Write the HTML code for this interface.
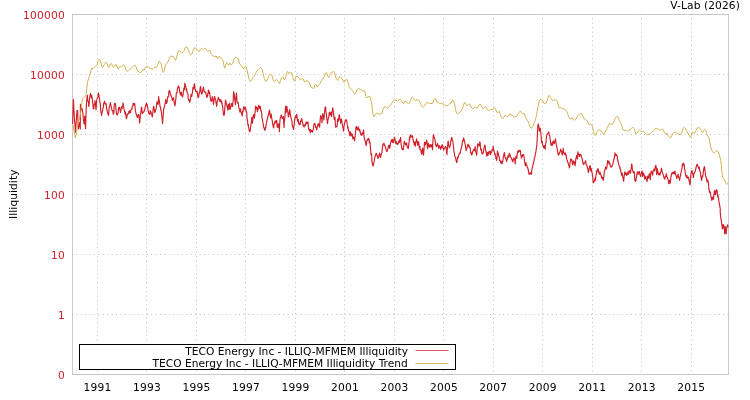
<!DOCTYPE html>
<html><head><meta charset="utf-8"><title>V-Lab Illiquidity</title>
<style>
html,body{margin:0;padding:0;background:#fff;}
body{width:750px;height:400px;overflow:hidden;}
svg{display:block;}
text{font-family:"DejaVu Sans","Liberation Sans",sans-serif;font-size:10.67px;}
.yl{fill:#d0202a;text-anchor:end;letter-spacing:0.21px;}
.xl{fill:#000;text-anchor:middle;letter-spacing:0.21px;}
.grid{stroke:#bcbcbc;stroke-width:1;stroke-dasharray:1 3.4;fill:none;}
</style></head><body>
<svg width="750" height="400" viewBox="0 0 750 400">
<rect x="0" y="0" width="750" height="400" fill="#fff"/>
<rect x="72.5" y="14.5" width="656.0" height="360.0" fill="none" stroke="#cacaca" stroke-width="1" shape-rendering="crispEdges"/>
<g><line class="grid" x1="72.0" y1="14.5" x2="729.0" y2="14.5"/><line class="grid" x1="72.0" y1="74.5" x2="729.0" y2="74.5"/><line class="grid" x1="72.0" y1="134.5" x2="729.0" y2="134.5"/><line class="grid" x1="72.0" y1="194.5" x2="729.0" y2="194.5"/><line class="grid" x1="72.0" y1="254.5" x2="729.0" y2="254.5"/><line class="grid" x1="72.0" y1="314.5" x2="729.0" y2="314.5"/><line class="grid" x1="72.0" y1="374.5" x2="729.0" y2="374.5"/><line class="grid" x1="97.50" y1="14.0" x2="97.50" y2="375.0"/><line class="grid" x1="146.50" y1="14.0" x2="146.50" y2="375.0"/><line class="grid" x1="196.50" y1="14.0" x2="196.50" y2="375.0"/><line class="grid" x1="245.50" y1="14.0" x2="245.50" y2="375.0"/><line class="grid" x1="295.50" y1="14.0" x2="295.50" y2="375.0"/><line class="grid" x1="344.50" y1="14.0" x2="344.50" y2="375.0"/><line class="grid" x1="394.50" y1="14.0" x2="394.50" y2="375.0"/><line class="grid" x1="443.50" y1="14.0" x2="443.50" y2="375.0"/><line class="grid" x1="493.50" y1="14.0" x2="493.50" y2="375.0"/><line class="grid" x1="542.50" y1="14.0" x2="542.50" y2="375.0"/><line class="grid" x1="592.50" y1="14.0" x2="592.50" y2="375.0"/><line class="grid" x1="641.50" y1="14.0" x2="641.50" y2="375.0"/><line class="grid" x1="691.50" y1="14.0" x2="691.50" y2="375.0"/></g>
<text class="yl" x="64.9" y="18.5">100000</text><text class="yl" x="64.9" y="78.5">10000</text><text class="yl" x="64.9" y="138.5">1000</text><text class="yl" x="64.9" y="198.5">100</text><text class="yl" x="64.9" y="258.5">10</text><text class="yl" x="64.9" y="318.5">1</text><text class="yl" x="64.9" y="378.5">0</text>
<text class="xl" x="97.5" y="391">1991</text><text class="xl" x="147.0" y="391">1993</text><text class="xl" x="196.5" y="391">1995</text><text class="xl" x="245.9" y="391">1997</text><text class="xl" x="295.4" y="391">1999</text><text class="xl" x="344.9" y="391">2001</text><text class="xl" x="394.4" y="391">2003</text><text class="xl" x="443.9" y="391">2005</text><text class="xl" x="493.3" y="391">2007</text><text class="xl" x="542.8" y="391">2009</text><text class="xl" x="592.3" y="391">2011</text><text class="xl" x="641.8" y="391">2013</text><text class="xl" x="691.3" y="391">2015</text>
<text x="12.6" y="194.2" transform="rotate(-90 12.6 194.2)" text-anchor="middle" dy="4" letter-spacing="0.06">Illiquidity</text>
<text x="739.9" y="9" text-anchor="end" letter-spacing="0.08">V-Lab (2026)</text>
<polyline points="72.6,124.0 73.0,110.5 73.4,99.3 73.7,105.5 74.0,111.7 74.3,116.0 74.6,122.0 74.9,124.4 75.1,127.4 75.4,132.1 75.7,128.8 75.9,125.8 76.2,121.7 76.5,118.3 76.7,114.6 77.0,110.5 77.3,111.2 77.6,110.6 78.0,120.9 78.4,128.9 78.7,126.5 78.9,125.6 79.2,122.5 79.5,124.5 79.8,124.9 80.0,127.1 80.3,129.2 80.4,104.3 80.8,110.4 81.1,108.8 81.4,109.6 81.7,108.7 82.0,108.3 82.3,109.5 82.5,111.6 82.8,112.0 83.1,116.2 83.4,120.2 83.7,121.0 84.0,123.9 84.3,120.9 84.5,120.4 84.8,116.0 85.1,120.9 85.3,125.1 85.6,128.7 86.0,114.4 86.4,104.3 86.7,100.8 86.9,99.0 87.2,95.1 87.5,96.9 87.7,100.2 88.0,101.3 88.3,101.5 88.5,103.3 88.8,106.4 89.1,104.4 89.3,101.2 89.6,98.5 89.9,95.8 90.1,95.5 90.4,93.6 90.7,94.3 90.9,94.8 91.2,97.3 91.5,98.0 91.7,95.5 92.0,96.8 92.3,98.3 92.5,101.5 92.8,103.9 93.1,105.6 93.3,108.6 93.6,109.0 93.9,108.4 94.1,105.5 94.4,103.8 94.7,103.9 94.9,100.6 95.2,102.8 95.5,105.2 95.7,106.2 96.0,109.8 96.3,105.9 96.5,101.0 96.8,99.9 97.1,98.3 97.3,97.9 97.6,97.5 97.9,97.1 98.1,94.5 98.4,92.8 98.7,94.8 98.9,94.4 99.2,98.0 99.5,98.2 99.7,101.2 100.0,102.0 100.3,104.2 100.5,107.4 100.8,111.1 101.1,112.8 101.3,113.3 101.6,115.5 101.9,113.1 102.1,112.6 102.4,111.0 102.7,110.8 102.9,107.8 103.2,107.9 103.5,105.4 103.7,103.6 104.0,102.7 104.3,101.9 104.6,101.4 104.9,103.2 105.3,104.1 105.6,103.5 105.9,105.0 106.1,103.5 106.4,105.6 106.7,109.2 106.9,109.2 107.2,111.1 107.5,112.5 107.8,113.4 108.1,114.5 108.4,115.3 108.7,113.8 108.9,110.8 109.2,107.1 109.5,106.3 109.8,105.4 110.1,104.5 110.4,102.5 110.7,104.6 110.9,105.4 111.2,106.8 111.5,107.6 111.8,109.7 112.1,110.5 112.4,110.5 112.7,110.7 113.0,112.3 113.3,114.3 113.6,114.1 113.9,110.1 114.1,107.7 114.4,104.3 114.7,103.4 115.1,104.2 115.4,103.6 115.8,107.5 116.1,110.9 116.4,113.1 116.7,114.8 117.0,113.9 117.4,114.8 117.7,113.5 118.1,113.3 118.4,108.9 118.7,107.5 119.0,108.4 119.3,109.2 119.6,107.2 119.9,109.8 120.1,110.0 120.4,112.5 120.7,111.4 120.9,109.6 121.2,108.7 121.5,107.2 121.8,106.6 122.1,108.5 122.4,106.1 122.7,106.6 123.0,102.8 123.4,104.5 123.8,108.0 124.1,109.6 124.5,111.1 124.8,112.3 125.1,114.1 125.4,111.7 125.7,114.0 126.0,115.1 126.3,118.6 126.6,118.1 126.9,117.0 127.2,114.8 127.4,114.2 127.8,114.4 128.1,113.7 128.4,113.3 128.7,111.7 129.0,111.8 129.2,112.1 129.5,110.7 129.8,111.3 130.0,113.2 130.3,111.2 130.5,112.8 130.8,110.5 131.1,109.5 131.4,109.0 131.8,108.3 132.0,108.9 132.3,106.5 132.6,105.9 132.8,105.8 133.1,103.8 133.4,103.2 133.6,104.9 133.9,104.1 134.2,105.2 134.4,104.5 134.7,103.5 135.0,106.9 135.2,108.7 135.5,111.7 135.8,112.2 136.0,113.3 136.3,114.7 136.6,115.1 136.8,116.1 137.1,115.6 137.4,117.8 137.6,115.8 137.9,115.1 138.2,114.7 138.4,115.8 138.7,114.6 139.0,116.7 139.3,118.9 139.6,123.1 139.9,120.7 140.2,116.9 140.5,114.6 140.8,112.6 141.1,110.2 141.4,107.0 141.7,107.4 142.0,110.9 142.3,113.4 142.6,113.7 142.9,112.2 143.2,112.0 143.4,111.9 143.7,112.2 144.0,111.5 144.2,111.2 144.5,109.5 144.8,110.0 145.1,107.8 145.3,106.7 145.6,106.2 145.9,105.0 146.1,104.1 146.4,103.5 146.7,103.4 146.9,105.3 147.2,104.5 147.5,106.6 147.8,108.1 148.0,110.5 148.3,111.1 148.6,113.0 148.8,113.4 149.1,113.4 149.4,114.2 149.6,114.4 149.9,113.2 150.2,110.5 150.4,113.1 150.7,112.4 151.0,111.8 151.2,112.8 151.5,114.6 151.8,114.8 152.1,116.4 152.4,116.9 152.7,113.6 153.0,110.7 153.3,108.3 153.6,106.1 153.9,106.9 154.1,108.4 154.4,109.7 154.7,112.4 154.9,110.0 155.2,112.2 155.5,110.9 155.7,110.1 156.0,109.3 156.3,107.5 156.6,103.9 156.8,103.0 157.1,101.7 157.4,102.4 157.6,104.1 157.9,103.2 158.2,104.3 158.4,100.8 158.6,96.5 158.9,99.2 159.2,100.0 159.5,101.7 159.8,104.4 160.0,106.7 160.3,106.6 160.6,107.9 160.8,110.1 161.1,110.0 161.4,112.6 161.7,115.4 162.0,117.4 162.3,119.8 162.6,123.6 162.9,118.5 163.2,115.8 163.6,109.6 163.9,108.6 164.2,107.2 164.5,106.5 164.8,104.7 165.0,104.0 165.3,103.3 165.6,100.6 165.8,99.4 166.1,103.3 166.4,103.3 166.7,103.0 166.9,102.5 167.2,101.2 167.5,98.9 167.8,96.7 168.1,97.1 168.4,96.1 168.6,96.2 168.9,91.0 169.2,91.3 169.5,90.3 169.8,91.1 170.1,93.3 170.4,94.7 170.7,94.6 170.9,95.9 171.2,95.9 171.5,97.0 171.7,97.5 172.0,98.1 172.3,100.4 172.5,99.6 172.8,98.5 173.1,99.4 173.4,97.5 173.7,99.5 174.0,100.9 174.2,103.0 174.5,104.5 174.8,105.0 175.0,105.9 175.3,103.2 175.6,100.1 175.9,98.8 176.2,94.3 176.4,92.8 176.7,93.0 177.0,93.0 177.3,89.6 177.6,87.7 177.9,87.8 178.1,86.7 178.4,86.1 178.7,86.1 178.9,86.6 179.2,87.9 179.5,89.9 179.8,91.9 180.1,93.3 180.4,94.4 180.6,95.0 180.9,94.0 181.2,92.1 181.5,92.5 181.7,95.3 182.0,95.6 182.3,96.5 182.6,96.8 182.9,95.2 183.2,93.4 183.5,90.4 183.8,88.6 184.1,87.9 184.4,89.6 184.8,83.2 185.1,84.0 185.4,86.4 185.7,86.2 186.0,88.2 186.3,90.5 186.5,88.5 186.8,90.3 187.1,92.5 187.3,92.3 187.6,92.8 187.9,93.8 188.2,98.3 188.4,99.5 188.7,100.2 189.0,99.4 189.2,100.0 189.5,101.2 189.8,102.5 190.1,100.6 190.4,100.4 190.7,97.5 191.0,94.7 191.3,96.7 191.6,94.2 191.8,96.5 192.1,94.1 192.4,92.9 192.7,90.6 193.0,87.3 193.3,89.3 193.6,89.2 193.9,87.2 194.1,85.1 194.4,83.5 194.7,85.4 195.0,88.4 195.3,89.5 195.6,90.9 195.8,91.4 196.1,91.6 196.4,91.9 196.6,91.5 196.9,91.0 197.2,91.2 197.5,94.1 197.8,96.8 198.0,97.3 198.3,95.6 198.6,97.3 198.9,94.4 199.2,92.8 199.5,93.1 199.8,91.5 200.1,88.6 200.4,86.5 200.7,87.1 201.0,89.8 201.2,91.6 201.5,93.6 201.8,94.2 202.0,93.5 202.3,92.4 202.6,91.7 202.8,89.7 203.1,89.1 203.4,87.0 203.7,88.6 204.0,91.0 204.3,91.5 204.5,91.5 204.8,91.9 205.1,92.5 205.4,91.9 205.8,92.8 206.0,94.4 206.3,94.5 206.6,95.9 206.9,97.5 207.2,96.7 207.5,96.4 207.8,93.6 208.1,93.4 208.4,90.6 208.7,90.0 209.0,93.2 209.2,93.1 209.5,92.1 209.8,94.4 210.0,96.4 210.3,97.0 210.6,99.8 210.9,100.9 211.2,101.3 211.5,101.0 211.7,100.3 212.0,98.8 212.3,96.6 212.6,98.9 212.9,101.0 213.2,100.0 213.4,104.3 213.8,102.4 214.1,98.5 214.4,96.7 214.7,96.5 214.9,97.9 215.2,98.4 215.5,99.7 215.7,100.1 216.0,102.5 216.3,103.9 216.6,106.3 216.9,104.8 217.2,101.7 217.4,101.1 217.8,100.2 218.1,98.2 218.4,97.4 218.7,98.9 218.9,99.1 219.2,99.4 219.5,99.3 219.7,101.3 220.0,100.8 220.3,101.4 220.6,99.6 220.9,101.3 221.2,101.2 221.4,103.2 221.7,101.1 222.0,104.1 222.2,105.0 222.5,105.9 222.8,107.8 223.0,110.4 223.3,112.9 223.6,114.9 223.9,115.5 224.1,113.2 224.4,114.8 224.7,109.1 225.0,106.1 225.2,104.8 225.4,100.4 225.7,100.1 226.0,102.5 226.2,102.9 226.5,103.5 226.8,105.2 227.0,106.9 227.3,107.1 227.6,107.9 227.8,110.2 228.1,106.2 228.4,104.3 228.7,105.1 229.0,109.0 229.3,104.9 229.6,103.0 229.9,107.0 230.2,109.4 230.5,106.8 230.8,107.0 231.0,106.3 231.3,106.0 231.6,103.6 231.8,103.5 232.1,104.6 232.4,104.0 232.6,106.4 232.9,102.5 233.2,100.2 233.6,91.6 233.9,92.9 234.2,93.5 234.5,97.1 234.8,99.9 235.1,101.6 235.4,104.6 235.6,100.5 235.8,98.5 236.1,96.2 236.4,93.0 236.7,95.9 237.0,100.6 237.3,102.4 237.6,102.9 237.9,103.3 238.1,102.3 238.4,104.0 238.7,106.6 239.0,108.5 239.3,109.0 239.6,109.1 239.8,111.9 240.1,111.6 240.4,108.9 240.7,111.0 240.9,111.7 241.2,112.6 241.5,113.5 241.7,113.3 242.0,115.0 242.3,115.9 242.5,111.9 242.8,110.5 243.1,111.8 243.3,108.9 243.6,107.0 243.9,107.2 244.1,106.9 244.4,109.1 244.7,108.5 244.9,107.4 245.2,107.4 245.5,107.9 245.7,109.9 246.0,109.5 246.3,112.2 246.5,111.5 246.8,113.4 247.0,118.2 247.3,119.5 247.6,121.5 247.8,123.6 248.1,125.6 248.4,124.9 248.6,127.7 248.9,128.4 249.2,130.8 249.4,130.3 249.7,130.2 250.0,131.9 250.3,130.0 250.6,127.0 250.9,125.2 251.2,123.2 251.5,120.9 251.8,117.4 252.1,119.5 252.4,123.2 252.7,121.0 253.0,118.2 253.2,115.5 253.5,116.9 253.8,114.3 254.1,115.1 254.4,118.2 254.7,116.2 255.0,113.2 255.3,110.2 255.6,106.2 255.9,106.5 256.2,108.8 256.5,108.3 256.8,107.4 257.1,110.0 257.4,111.6 257.7,110.3 258.0,109.5 258.3,107.4 258.6,105.3 258.9,105.4 259.2,108.0 259.5,108.3 259.7,107.6 260.0,107.4 260.3,106.3 260.6,108.7 260.9,110.8 261.2,110.5 261.5,112.2 261.8,114.6 262.0,118.2 262.3,119.0 262.6,120.6 262.8,122.3 263.1,123.4 263.4,125.1 263.6,126.9 263.9,127.8 264.2,128.1 264.4,129.4 264.7,130.1 265.0,130.4 265.2,127.4 265.5,128.4 265.8,127.2 266.1,125.3 266.4,123.1 266.7,121.8 266.9,121.0 267.2,119.3 267.5,118.6 267.7,116.9 268.0,116.7 268.3,115.5 268.5,113.5 268.8,113.8 269.1,111.6 269.4,110.2 269.7,110.9 270.0,114.2 270.3,115.3 270.6,118.0 270.9,116.6 271.2,114.1 271.5,116.2 271.8,118.4 272.1,119.8 272.4,122.0 272.6,124.0 272.9,124.5 273.2,126.9 273.4,127.4 273.7,127.9 274.0,123.9 274.2,124.2 274.5,123.1 274.8,121.5 275.0,122.3 275.3,120.8 275.6,122.1 275.8,123.0 276.1,122.5 276.4,122.3 276.6,120.4 276.9,122.2 277.2,127.3 277.5,125.7 277.8,124.2 278.1,125.1 278.4,127.3 278.7,127.5 279.0,123.6 279.4,131.7 279.6,126.6 279.8,122.5 280.1,118.9 280.4,117.9 280.7,116.9 280.9,115.9 281.2,115.0 281.5,115.8 281.7,116.7 282.0,117.1 282.3,118.5 282.5,118.2 282.8,118.4 283.1,116.6 283.4,116.8 283.7,123.0 284.0,127.4 284.3,121.9 284.6,119.9 284.9,116.9 285.2,112.0 285.6,106.1 285.9,108.4 286.2,112.3 286.5,110.1 286.8,106.3 287.1,108.4 287.4,110.3 287.7,111.4 288.0,113.3 288.3,116.6 288.6,116.8 288.9,115.5 289.2,112.3 289.5,109.7 289.8,110.2 290.1,112.8 290.4,114.1 290.7,116.5 291.0,117.9 291.3,118.3 291.6,119.7 291.8,120.5 292.1,123.6 292.4,126.1 292.6,126.6 292.9,127.0 293.2,127.9 293.4,129.5 293.7,128.5 294.0,125.2 294.2,124.5 294.5,120.5 294.8,119.2 295.0,117.3 295.3,118.1 295.6,115.9 295.8,116.3 296.2,117.5 296.5,114.8 296.8,114.4 297.2,118.5 297.5,121.3 297.7,119.0 298.0,121.1 298.3,119.5 298.5,123.3 298.8,122.1 299.1,123.9 299.3,124.8 299.6,123.8 300.0,124.3 300.3,124.0 300.5,121.3 300.8,121.6 301.1,119.8 301.3,120.9 301.6,118.6 301.9,118.9 302.1,121.2 302.4,122.0 302.7,122.8 302.9,124.5 303.2,125.8 303.5,125.6 303.7,125.3 304.0,127.0 304.3,126.1 304.5,124.8 304.8,125.9 305.1,125.7 305.3,125.2 305.6,124.5 305.9,123.0 306.2,121.8 306.5,122.8 306.8,122.5 307.0,123.7 307.3,123.5 307.6,122.6 307.8,121.9 308.1,123.0 308.4,126.7 308.7,129.1 308.9,129.4 309.2,129.6 309.5,130.8 309.7,129.2 310.0,130.6 310.3,132.8 310.6,129.5 310.9,130.1 311.2,131.5 311.5,130.7 311.8,130.9 312.1,130.5 312.4,132.2 312.7,130.7 312.9,130.6 313.2,129.7 313.5,128.3 313.8,124.8 314.1,124.2 314.4,123.4 314.7,123.9 314.9,123.6 315.2,125.2 315.5,126.5 315.8,127.7 316.1,127.1 316.4,128.8 316.6,129.9 316.9,129.2 317.2,126.9 317.5,126.4 317.7,125.8 318.0,124.0 318.3,123.8 318.5,124.3 318.8,123.8 319.1,125.8 319.3,124.8 319.6,127.2 319.9,123.2 320.2,119.6 320.4,117.5 320.6,115.6 320.9,116.4 321.2,118.0 321.4,116.8 321.7,118.9 322.0,122.7 322.3,118.1 322.6,114.7 322.8,113.7 323.1,115.4 323.4,115.1 323.6,117.0 323.8,119.9 324.1,117.7 324.4,114.2 324.7,110.7 325.0,107.7 325.3,107.5 325.6,106.9 325.9,111.4 326.2,113.2 326.5,114.8 326.8,119.1 327.1,119.0 327.3,122.6 327.6,123.7 327.9,120.0 328.2,119.3 328.5,117.0 328.8,117.2 329.1,113.6 329.4,112.0 329.7,112.6 330.0,114.3 330.2,115.0 330.5,115.0 330.8,113.9 331.0,112.4 331.3,114.1 331.6,116.7 331.9,113.0 332.2,111.0 332.4,110.3 332.6,108.0 332.9,108.1 333.2,111.1 333.5,113.3 333.8,115.6 334.1,118.2 334.4,119.6 334.7,118.6 335.0,117.2 335.3,123.8 335.6,127.1 335.9,127.3 336.1,126.9 336.4,126.7 336.7,126.0 336.9,126.5 337.2,125.6 337.5,120.2 337.8,119.3 338.1,118.8 338.4,121.1 338.7,119.3 338.9,117.0 339.2,114.7 339.5,115.5 339.8,118.8 340.1,119.9 340.4,120.1 340.6,123.1 340.9,121.7 341.2,120.2 341.4,118.8 341.7,120.5 342.0,122.2 342.2,123.8 342.5,125.3 342.8,127.4 343.0,127.4 343.3,129.6 343.6,131.2 343.9,127.0 344.2,125.5 344.4,124.2 344.7,122.4 345.0,122.7 345.3,120.7 345.6,120.0 345.9,120.1 346.1,119.6 346.4,120.1 346.7,121.0 346.9,121.2 347.2,124.5 347.5,126.3 347.8,128.4 348.1,127.0 348.4,130.3 348.6,130.3 348.9,131.5 349.2,131.1 349.5,134.6 349.8,135.8 350.1,133.8 350.4,132.0 350.7,132.3 351.0,134.0 351.2,135.2 351.5,136.0 351.8,134.0 352.0,134.4 352.3,134.1 352.6,136.7 352.8,138.8 353.2,136.7 353.5,138.4 353.8,137.7 354.1,138.0 354.3,139.3 354.6,141.0 354.9,137.8 355.2,136.1 355.5,132.8 355.8,129.2 356.1,126.5 356.3,126.7 356.6,127.1 356.9,128.0 357.1,129.5 357.4,129.9 357.7,128.4 357.9,129.1 358.2,126.8 358.5,128.6 358.7,128.5 359.0,130.7 359.3,129.4 359.5,130.6 359.8,129.5 360.1,132.3 360.3,131.8 360.6,133.2 360.9,134.9 361.1,135.0 361.4,135.0 361.7,133.7 361.9,135.4 362.2,133.7 362.5,133.2 362.7,133.8 363.0,131.9 363.3,131.2 363.6,129.8 363.9,134.1 364.2,138.0 364.5,139.3 364.7,139.4 365.0,140.4 365.3,141.7 365.6,143.0 365.9,144.6 366.2,145.6 366.5,143.7 366.8,140.5 367.0,140.4 367.3,139.7 367.6,139.0 367.8,140.2 368.1,139.5 368.4,138.9 368.6,138.6 368.9,138.3 369.2,141.3 369.4,142.9 369.7,141.9 370.0,142.4 370.2,144.6 370.4,147.4 370.8,152.8 371.1,154.7 371.3,153.5 371.6,153.9 372.0,161.7 372.3,163.5 372.6,164.7 372.9,165.7 373.2,166.0 373.5,164.7 373.8,163.0 374.1,161.7 374.4,159.7 374.8,157.7 375.1,156.2 375.3,155.6 375.6,155.5 375.9,154.1 376.1,153.2 376.4,153.2 376.7,155.0 377.0,155.1 377.3,156.2 377.6,155.9 377.9,158.1 378.2,158.0 378.5,158.1 378.8,155.9 379.0,155.4 379.3,153.5 379.6,153.1 379.9,154.6 380.1,155.1 380.4,157.1 380.7,157.4 380.9,154.8 381.2,154.7 381.5,154.0 381.7,152.9 382.0,152.8 382.4,146.5 382.7,146.5 383.0,144.1 383.2,143.9 383.5,143.7 383.8,144.8 384.0,143.2 384.3,144.4 384.6,145.6 384.8,145.8 385.1,146.0 385.4,146.8 385.6,148.1 385.9,149.0 386.2,149.9 386.4,150.3 386.7,151.7 387.0,151.2 387.2,151.1 387.5,149.7 387.8,149.5 388.0,147.9 388.3,147.3 388.6,145.4 388.9,147.1 389.1,145.2 389.4,146.8 389.7,148.3 389.9,147.1 390.2,146.2 390.5,142.9 390.8,141.9 391.1,141.5 391.4,139.9 391.7,139.8 391.9,141.7 392.2,140.9 392.5,139.4 392.7,142.5 393.0,140.0 393.3,142.5 393.6,142.6 393.9,140.0 394.2,139.6 394.4,137.1 394.7,137.5 395.0,139.7 395.2,140.3 395.5,140.1 395.8,143.6 396.1,141.6 396.3,142.8 396.6,142.0 396.9,142.7 397.1,144.6 397.4,144.1 397.7,144.1 397.9,143.7 398.2,143.8 398.5,143.1 398.7,141.2 399.0,141.2 399.3,140.2 399.5,142.4 399.8,139.6 400.0,140.9 400.3,140.1 400.6,137.4 400.9,141.2 401.2,145.1 401.5,145.8 401.7,148.2 402.0,148.3 402.3,149.3 402.5,149.8 402.8,149.2 403.1,148.2 403.3,149.6 403.6,146.5 403.9,144.9 404.2,141.4 404.4,141.6 404.7,143.3 405.0,143.3 405.2,143.2 405.5,144.8 405.8,145.0 406.1,143.1 406.4,143.0 406.7,143.2 406.9,145.3 407.2,146.8 407.5,146.9 407.8,148.1 408.1,148.5 408.4,148.1 408.6,145.7 408.9,143.7 409.2,141.0 409.5,137.2 409.7,139.9 410.0,136.5 410.3,134.9 410.5,137.0 410.8,135.9 411.1,137.0 411.3,136.5 411.6,136.2 411.9,137.2 412.1,135.5 412.4,135.7 412.7,136.6 413.0,139.2 413.3,141.0 413.6,142.1 413.9,142.0 414.2,144.9 414.5,144.5 414.8,141.9 415.1,143.7 415.4,146.2 415.7,142.8 416.0,141.8 416.3,140.9 416.6,138.9 416.9,140.5 417.2,142.2 417.5,143.9 417.8,145.3 418.1,142.1 418.4,141.7 418.7,142.3 419.0,144.9 419.3,148.0 419.6,148.0 419.9,146.3 420.1,149.8 420.4,149.6 420.7,149.6 420.9,150.4 421.2,152.8 421.5,152.8 421.8,154.4 422.1,151.7 422.4,149.1 422.7,148.2 423.0,152.8 423.3,153.1 423.5,155.1 423.8,151.6 424.2,146.9 424.5,142.3 424.8,142.2 425.1,143.5 425.4,144.8 425.7,143.6 426.0,142.6 426.3,142.1 426.6,140.1 426.9,141.8 427.2,145.0 427.6,148.7 427.9,145.8 428.2,143.2 428.5,144.0 428.8,145.0 429.1,146.3 429.3,147.1 429.6,146.9 429.9,147.2 430.1,145.0 430.4,144.5 430.7,145.9 430.9,145.5 431.2,146.9 431.5,145.6 431.7,144.7 432.0,144.7 432.2,146.0 432.5,149.8 432.7,146.4 433.0,140.4 433.2,136.9 433.4,134.8 433.7,134.8 434.0,137.3 434.3,137.3 434.5,138.5 434.8,138.5 435.1,140.9 435.4,142.2 435.7,145.2 436.0,145.1 436.3,146.6 436.6,146.6 437.0,144.9 437.3,144.1 437.6,143.6 438.0,145.6 438.3,145.6 438.5,147.6 438.8,148.2 439.1,146.4 439.4,145.8 439.7,145.7 440.0,146.8 440.3,148.5 440.6,149.4 441.0,148.1 441.3,146.6 441.6,146.2 441.9,147.5 442.2,144.6 442.4,145.1 442.7,145.6 443.0,148.2 443.4,148.7 443.7,150.1 444.0,148.9 444.4,148.3 444.7,148.1 444.9,147.3 445.2,147.2 445.5,146.5 445.8,147.4 446.1,147.5 446.4,149.9 446.6,152.8 446.9,154.6 447.1,151.7 447.4,148.2 447.6,146.7 447.8,143.4 448.1,141.1 448.4,142.4 448.7,145.7 449.0,146.1 449.3,147.8 449.6,146.5 449.9,146.7 450.2,145.4 450.5,143.9 450.8,141.3 451.1,140.8 451.3,138.1 451.6,137.8 451.9,137.6 452.2,139.7 452.5,140.8 452.8,140.9 453.0,143.0 453.3,145.4 453.6,146.9 453.9,150.6 454.1,152.2 454.4,152.7 454.7,156.2 455.0,157.2 455.2,157.1 455.5,157.9 455.8,159.3 456.1,160.8 456.4,161.0 456.7,162.6 457.0,161.8 457.3,158.2 457.6,157.0 457.9,158.4 458.1,157.5 458.4,156.4 458.7,155.2 459.0,154.4 459.3,154.0 459.6,153.0 459.9,153.3 460.2,153.3 460.5,150.8 460.8,150.5 461.1,148.9 461.4,148.1 461.7,146.0 462.0,145.7 462.3,141.8 462.6,140.8 462.9,141.5 463.2,139.1 463.5,138.0 463.8,138.1 464.1,140.4 464.4,140.4 464.7,142.4 465.0,143.5 465.3,144.9 465.6,147.2 465.9,148.5 466.1,150.7 466.4,149.2 466.7,148.5 467.0,148.1 467.3,146.4 467.6,145.2 467.9,144.8 468.1,144.1 468.4,145.0 468.7,146.4 468.9,145.3 469.2,146.2 469.5,147.7 469.7,146.7 470.0,148.0 470.3,148.4 470.6,151.8 470.9,153.5 471.2,152.6 471.4,154.3 471.8,155.0 472.1,154.1 472.4,153.4 472.7,151.3 473.0,151.3 473.4,150.6 473.7,149.4 474.0,149.6 474.3,149.2 474.5,150.4 474.8,148.4 475.1,146.5 475.4,149.9 475.7,151.5 476.0,152.1 476.3,153.7 476.6,155.3 476.9,153.0 477.2,148.6 477.4,147.4 477.7,143.8 478.0,145.1 478.4,144.2 478.7,144.1 479.0,146.2 479.3,144.8 479.6,144.2 479.8,141.9 480.1,142.4 480.3,145.1 480.6,148.7 480.9,150.0 481.2,150.6 481.5,149.2 481.8,153.5 482.2,153.7 482.5,153.5 482.8,153.9 483.1,152.3 483.4,152.5 483.8,149.3 484.1,147.4 484.4,146.7 484.7,145.0 485.0,145.8 485.3,147.3 485.6,150.2 485.9,150.6 486.2,152.7 486.5,153.6 486.8,156.1 487.1,154.2 487.4,152.4 487.7,154.2 488.0,155.5 488.3,154.0 488.6,152.7 488.9,151.9 489.2,151.3 489.5,151.4 489.8,152.8 490.1,154.4 490.4,151.1 490.6,154.7 491.0,152.4 491.3,152.5 491.6,152.3 491.9,151.5 492.2,149.4 492.6,149.1 492.9,150.2 493.2,146.0 493.4,147.8 493.7,149.9 494.0,150.6 494.3,152.0 494.6,154.5 495.0,153.6 495.3,155.0 495.6,155.5 495.9,158.4 496.2,158.4 496.5,160.0 496.8,160.3 497.1,156.8 497.4,151.2 497.7,151.6 498.0,154.3 498.3,153.0 498.6,156.1 499.0,156.5 499.3,157.3 499.6,160.7 500.0,160.1 500.3,160.8 500.6,162.1 500.9,163.1 501.2,163.2 501.5,162.2 501.8,161.4 502.2,163.6 502.5,162.9 502.8,160.8 503.1,158.7 503.4,156.5 503.8,155.5 504.1,153.1 504.4,152.6 504.7,154.7 505.0,157.3 505.3,158.0 505.5,157.9 505.8,158.7 506.1,159.3 506.4,160.2 506.7,161.5 507.0,159.5 507.2,157.5 507.5,159.3 507.8,156.6 508.0,155.7 508.3,156.7 508.6,157.2 508.9,156.1 509.1,154.5 509.4,153.2 509.7,154.9 509.9,155.8 510.2,154.8 510.5,157.0 510.7,157.2 511.0,157.6 511.3,158.1 511.5,158.7 511.8,159.5 512.1,159.1 512.3,160.9 512.6,161.2 512.9,161.8 513.1,160.5 513.4,159.8 513.7,158.8 513.9,157.8 514.2,158.3 514.5,158.6 514.8,159.9 515.2,164.0 515.6,158.2 515.9,157.3 516.2,156.0 516.5,156.3 516.8,158.4 517.1,155.3 517.4,153.1 517.7,151.2 518.0,151.1 518.3,152.0 518.6,152.2 518.9,150.0 519.2,151.4 519.6,150.9 519.9,151.6 520.1,151.0 520.4,150.4 520.6,153.2 520.8,155.4 521.1,155.7 521.4,158.2 521.7,156.8 521.9,155.5 522.2,156.9 522.5,155.8 522.7,154.8 523.0,154.6 523.3,154.4 523.6,154.6 523.9,156.0 524.2,157.8 524.5,161.1 524.8,162.4 525.1,164.1 525.4,165.8 525.7,164.0 526.0,162.7 526.3,164.3 526.6,164.9 526.9,165.4 527.2,167.4 527.5,167.6 527.8,167.7 528.0,169.8 528.4,169.6 528.7,172.1 529.0,174.3 529.4,174.0 529.7,173.6 530.0,172.9 530.3,173.8 530.6,172.8 530.9,172.5 531.2,174.5 531.5,173.2 531.7,170.6 532.0,169.2 532.4,166.9 532.7,166.9 533.0,164.4 533.3,164.2 533.6,162.4 534.0,161.2 534.3,157.9 534.6,157.5 534.9,157.3 535.2,154.6 535.6,153.0 535.9,151.7 536.2,149.6 536.5,147.2 536.8,145.8 537.2,138.7 537.4,134.4 537.8,125.6 538.1,124.8 538.4,124.1 538.7,125.5 539.0,127.9 539.3,131.2 539.6,130.4 539.9,128.8 540.2,128.2 540.5,129.9 540.8,132.2 541.1,136.0 541.4,139.4 541.7,142.6 542.0,142.0 542.3,141.4 542.6,145.0 542.9,145.2 543.2,145.9 543.6,148.0 543.9,148.0 544.2,146.8 544.5,145.7 544.8,148.2 545.2,149.1 545.4,145.8 545.6,144.2 546.0,142.7 546.3,138.5 546.6,136.4 546.9,134.5 547.2,134.0 547.6,133.9 547.9,133.3 548.2,133.2 548.5,133.1 548.8,131.7 549.1,134.0 549.4,135.6 549.7,135.3 550.0,138.3 550.3,140.4 550.6,142.6 550.9,144.5 551.2,145.5 551.6,144.9 551.9,143.0 552.2,143.8 552.6,145.3 552.9,141.6 553.2,141.2 553.5,141.6 553.8,142.5 554.1,143.4 554.4,143.7 554.7,141.7 555.0,140.8 555.4,138.8 555.6,140.3 555.9,142.1 556.2,144.2 556.5,145.2 556.8,147.0 557.2,148.7 557.6,150.9 557.9,152.8 558.2,154.8 558.5,155.2 558.8,154.6 559.1,153.7 559.3,152.9 559.6,153.5 559.9,151.9 560.2,151.5 560.6,149.0 560.9,150.3 561.2,151.2 561.5,151.0 561.8,152.8 562.1,154.3 562.4,154.9 562.7,152.4 563.0,150.6 563.2,148.2 563.4,150.0 563.7,152.6 564.0,152.9 564.3,153.8 564.6,154.3 564.9,154.6 565.2,152.9 565.5,153.7 565.8,155.3 566.2,155.1 566.5,157.8 566.8,159.2 567.1,160.0 567.4,160.6 567.8,162.6 568.1,162.5 568.4,164.1 568.7,165.5 569.0,165.6 569.3,167.7 569.5,168.0 569.8,165.8 570.0,163.2 570.3,161.8 570.6,159.0 571.0,159.8 571.3,159.2 571.6,159.3 571.9,161.1 572.2,162.2 572.6,164.9 572.9,163.6 573.2,160.8 573.5,163.1 573.8,162.6 574.2,161.6 574.5,163.9 574.8,164.3 575.1,165.8 575.4,163.7 575.6,161.1 575.9,158.3 576.2,157.9 576.6,155.6 576.9,156.0 577.1,156.7 577.4,158.9 577.6,155.8 577.8,151.7 578.1,153.4 578.4,153.8 578.7,154.3 579.0,155.0 579.3,156.4 579.6,156.4 579.9,154.0 580.2,154.2 580.6,155.2 580.9,154.7 581.2,155.5 581.5,157.2 581.8,158.2 582.2,158.4 582.5,161.3 582.8,161.9 583.1,163.8 583.4,162.7 583.7,164.7 583.9,164.1 584.2,163.0 584.6,163.0 585.0,162.1 585.3,161.5 585.6,160.7 585.9,162.4 586.2,164.2 586.4,165.0 586.7,164.9 587.0,166.0 587.2,166.7 587.6,168.6 587.9,168.7 588.2,172.0 588.5,172.3 588.8,171.1 589.2,168.3 589.4,167.2 589.6,166.1 590.0,167.4 590.3,165.8 590.5,168.7 590.8,170.9 591.1,168.4 591.4,169.0 591.7,171.0 592.0,172.3 592.3,174.5 592.5,175.7 592.8,177.5 593.0,180.6 593.3,183.0 593.5,182.1 593.8,182.0 594.1,181.2 594.3,181.1 594.6,180.1 594.9,178.4 595.1,180.9 595.4,179.4 595.7,177.7 596.0,175.0 596.3,174.0 596.6,171.2 596.9,170.3 597.1,172.0 597.4,170.9 597.7,168.9 597.9,170.6 598.2,168.8 598.5,170.5 598.8,172.5 599.1,173.5 599.4,174.3 599.7,173.1 600.0,171.8 600.4,174.3 600.7,174.2 601.0,175.3 601.3,175.8 601.6,177.7 602.0,178.7 602.3,178.3 602.6,177.2 602.9,178.1 603.2,180.5 603.6,177.9 603.9,175.9 604.2,173.1 604.5,170.9 604.8,170.8 605.2,168.7 605.5,166.9 605.8,167.7 606.1,168.4 606.4,169.0 606.8,167.9 607.1,164.9 607.4,162.9 607.7,160.5 608.0,162.7 608.4,162.9 608.7,162.3 609.0,161.0 609.3,163.9 609.6,162.9 610.0,164.0 610.3,165.8 610.5,165.6 610.8,166.3 611.1,167.4 611.3,166.8 611.6,166.7 611.9,166.5 612.1,166.1 612.4,165.3 612.7,164.7 613.0,163.5 613.3,161.9 613.6,159.7 614.0,159.8 614.3,157.6 614.6,156.3 614.9,152.8 615.2,154.1 615.6,154.2 615.9,155.7 616.2,155.7 616.5,154.5 616.8,155.8 617.2,155.9 617.4,157.2 617.6,160.4 618.0,160.5 618.3,163.0 618.6,163.6 618.9,165.7 619.2,165.8 619.6,166.7 619.9,166.9 620.2,169.5 620.5,168.9 620.8,171.7 621.2,172.6 621.5,175.0 621.8,175.4 622.1,172.8 622.4,174.9 622.6,176.6 622.9,177.2 623.2,179.0 623.5,180.8 623.7,181.3 624.0,176.9 624.2,175.0 624.4,175.2 624.7,172.1 625.0,172.0 625.3,173.4 625.6,174.5 626.0,173.2 626.3,173.0 626.6,175.4 626.9,175.2 627.2,174.0 627.6,174.0 627.9,171.8 628.2,173.6 628.5,174.5 628.8,172.5 629.2,170.7 629.5,170.9 629.8,170.9 630.1,172.2 630.4,173.3 630.7,171.9 631.0,169.5 631.3,168.1 631.6,164.0 631.9,164.2 632.2,167.6 632.5,169.7 632.8,170.8 633.2,172.3 633.5,172.8 633.8,172.4 634.1,171.5 634.4,173.2 634.6,175.6 634.8,180.5 635.1,179.1 635.3,180.7 635.6,181.4 635.9,180.6 636.2,178.4 636.5,177.2 636.8,175.1 637.2,172.6 637.5,171.8 637.8,172.3 638.1,174.3 638.4,172.1 638.8,172.1 639.1,172.2 639.4,171.6 639.7,174.2 640.0,174.7 640.4,176.0 640.7,176.5 641.0,174.9 641.3,172.8 641.6,172.3 642.0,170.8 642.3,172.4 642.6,176.4 642.9,174.7 643.2,173.1 643.6,172.9 643.9,175.4 644.2,174.8 644.5,177.8 644.8,179.2 645.0,178.2 645.3,178.2 645.5,177.4 645.8,176.2 646.1,178.2 646.4,178.9 646.8,181.0 647.1,181.4 647.4,178.5 647.7,176.0 648.0,177.0 648.4,178.2 648.7,178.1 649.0,174.8 649.3,173.9 649.6,173.8 650.0,176.5 650.3,179.7 650.5,175.3 650.8,173.2 651.1,171.7 651.4,171.0 651.7,171.7 652.0,173.4 652.4,173.4 652.7,175.3 653.0,172.3 653.3,170.4 653.6,169.7 654.0,169.2 654.3,169.6 654.6,171.0 654.8,169.8 655.1,168.0 655.3,166.6 655.6,165.7 655.9,165.4 656.2,167.4 656.4,170.9 656.7,174.6 657.0,173.3 657.3,168.6 657.6,170.2 658.0,172.5 658.3,173.4 658.6,174.9 658.9,174.9 659.2,173.3 659.6,174.3 659.9,175.0 660.2,173.8 660.5,172.2 660.8,172.2 661.0,170.8 661.2,169.7 661.5,168.0 661.8,169.9 662.1,171.2 662.4,171.8 662.8,173.7 663.1,174.4 663.4,175.6 663.7,176.2 664.0,177.6 664.4,178.9 664.7,179.2 665.0,178.5 665.3,176.5 665.6,176.2 666.0,176.4 666.2,173.6 666.4,174.7 666.8,175.9 667.1,177.5 667.4,177.4 667.7,178.5 668.0,179.5 668.4,180.8 668.6,182.7 668.8,183.8 669.2,182.1 669.5,180.4 669.8,182.6 670.1,183.4 670.4,181.6 670.6,180.5 670.9,176.5 671.2,176.4 671.6,173.8 671.9,173.1 672.2,172.7 672.5,172.9 672.8,173.7 673.2,172.2 673.5,172.0 673.8,173.4 674.1,171.9 674.4,173.9 674.8,173.4 675.1,171.2 675.4,174.0 675.7,174.7 676.0,175.3 676.4,176.2 676.7,178.4 677.0,178.1 677.3,176.7 677.6,176.5 678.0,174.1 678.3,175.2 678.6,176.9 678.9,177.7 679.2,178.6 679.6,180.3 679.9,178.1 680.2,176.6 680.5,175.7 680.8,173.1 681.2,171.9 681.5,170.3 681.8,169.5 682.1,167.1 682.4,164.0 682.8,166.0 683.1,164.3 683.4,163.2 683.7,164.4 684.0,164.0 684.3,165.3 684.5,169.2 684.8,169.4 685.0,171.3 685.3,173.5 685.6,175.0 686.0,175.9 686.3,177.4 686.6,176.3 686.9,175.4 687.2,176.6 687.6,178.2 687.9,178.2 688.2,177.4 688.5,177.1 688.8,179.5 689.2,181.2 689.5,181.9 689.7,183.8 690.0,184.8 690.2,183.7 690.4,179.6 690.7,177.3 690.9,174.4 691.2,173.2 691.4,171.0 691.7,170.8 692.0,170.7 692.4,172.4 692.7,173.5 693.0,174.7 693.3,177.6 693.6,176.0 694.0,173.3 694.3,173.1 694.6,172.8 694.9,171.6 695.2,171.6 695.6,170.0 695.9,168.4 696.2,166.8 696.5,165.7 696.8,164.9 697.2,165.4 697.5,164.2 697.8,166.4 698.1,166.6 698.4,167.5 698.8,168.6 699.1,169.0 699.4,167.2 699.7,170.3 700.0,171.4 700.4,172.3 700.7,174.4 701.0,177.0 701.3,179.4 701.6,180.4 702.0,177.5 702.3,176.1 702.6,176.8 702.9,175.6 703.2,173.1 703.6,170.0 704.0,167.7 704.4,166.6 704.6,167.7 704.9,170.1 705.1,171.2 705.4,174.2 705.6,175.8 705.8,176.8 706.2,177.3 706.5,177.4 706.7,180.5 707.0,181.0 707.3,182.1 707.6,180.6 707.8,179.8 708.1,181.7 708.3,182.1 708.6,184.7 708.9,189.5 709.2,189.3 709.4,191.9 709.7,191.3 710.0,193.1 710.2,191.9 710.5,193.2 710.8,195.0 711.1,197.8 711.3,197.8 711.6,199.2 711.8,200.3 712.1,198.7 712.4,197.0 712.7,199.1 713.0,199.3 713.3,199.0 713.6,198.9 713.8,194.4 714.1,194.6 714.4,190.7 714.7,190.9 714.9,191.9 715.2,191.9 715.4,194.3 715.6,194.7 715.9,192.4 716.1,190.4 716.4,189.8 716.6,191.0 716.8,190.0 717.1,190.3 717.3,193.3 717.6,194.7 717.8,196.9 718.1,195.6 718.4,197.0 718.6,198.6 718.9,200.5 719.1,203.1 719.4,203.3 719.6,205.3 719.8,206.1 720.1,208.2 720.3,209.0 720.2,212.2 720.4,213.7 720.6,215.8 720.9,219.2 721.1,219.6 721.4,220.9 721.6,222.7 721.8,224.8 722.1,226.2 722.4,229.0 722.6,226.5 722.9,224.9 723.1,224.5 723.4,225.6 723.6,224.8 723.8,228.1 724.1,226.9 724.3,228.9 724.6,233.6 724.9,230.6 725.1,226.3 725.4,228.2 725.6,231.8 725.8,232.9 726.1,233.9 726.3,231.9 726.6,229.6 726.8,227.1 727.0,226.7 727.3,226.9 727.5,224.9 727.8,225.8 728.0,227.4" fill="none" stroke="#d0202a" stroke-width="1.15" stroke-opacity="1" stroke-linejoin="round"/>
<polyline points="72.8,124.8 74.0,131.0 75.4,138.0 76.5,133.0 77.2,128.0 78.8,120.8 80.0,116.8 80.8,111.9 81.8,102.3 82.9,98.5 84.5,96.9 85.9,95.3 86.7,89.3 87.7,81.3 89.3,76.5 91.0,70.6 92.0,67.9 93.1,68.6 94.7,66.8 96.3,65.7 97.4,64.1 98.2,60.3 99.2,59.0 100.3,60.3 101.2,64.7 102.3,67.3 103.3,66.8 104.4,64.1 106.0,62.2 107.1,63.6 108.2,66.8 109.2,67.3 110.3,64.1 111.4,63.6 112.5,65.7 113.5,67.3 114.6,66.3 116.0,64.3 117.1,66.8 118.2,69.0 119.5,66.8 120.5,66.3 121.6,67.1 122.7,65.7 123.8,64.7 124.8,66.3 125.9,70.0 127.2,71.4 128.6,70.6 130.0,69.3 131.5,68.4 132.9,66.8 134.5,65.0 135.6,65.7 136.7,69.0 137.7,71.1 139.0,71.4 140.4,73.2 141.5,71.6 142.9,69.7 144.2,70.3 145.3,67.9 146.6,66.3 148.0,66.3 149.0,67.3 150.0,68.2 151.3,68.4 152.7,69.3 154.1,67.5 155.4,67.1 156.7,67.5 157.7,64.7 159.1,61.4 160.2,62.2 161.3,64.1 162.0,69.0 163.1,72.5 164.0,71.6 164.8,67.9 165.6,64.7 167.0,63.2 168.3,61.4 169.3,58.2 170.7,56.0 172.0,56.4 173.4,56.8 174.5,58.2 175.6,60.3 176.7,57.1 177.7,52.8 179.0,50.3 180.1,51.0 181.4,52.5 182.8,52.8 183.9,51.2 184.9,48.0 186.0,47.1 187.4,47.4 188.5,50.7 189.6,53.9 190.7,55.0 191.9,53.9 193.0,50.7 194.3,48.0 195.2,47.4 196.2,49.0 197.8,50.3 199.5,51.4 200.5,49.0 201.6,48.5 202.9,49.6 204.3,48.2 205.4,48.5 206.4,50.1 207.8,51.4 209.1,50.3 210.2,50.7 211.3,54.4 212.4,55.7 214.0,56.4 215.1,56.8 216.1,56.0 217.2,58.2 218.3,58.5 219.3,56.4 220.4,56.8 221.8,58.7 223.1,60.9 224.0,65.7 224.7,68.2 225.5,65.7 226.6,62.5 227.6,63.6 228.7,65.2 229.8,63.0 230.0,64.1 231.3,64.6 232.7,63.5 233.8,59.5 234.8,57.7 235.9,57.4 237.3,58.4 238.4,58.8 239.5,63.3 240.8,65.4 242.0,67.0 243.4,68.7 244.5,67.0 245.9,66.5 247.0,69.7 248.1,75.1 249.1,79.4 250.4,81.6 251.5,80.3 252.8,77.8 254.2,76.0 255.6,73.5 256.9,70.8 258.2,69.7 259.6,68.4 260.6,67.4 262.0,69.2 263.1,73.5 264.2,78.3 265.5,81.3 266.8,81.0 267.9,78.3 269.2,75.1 270.6,74.2 271.9,75.1 273.0,79.4 274.1,81.6 275.4,80.3 276.4,79.4 277.9,81.3 279.5,83.7 280.5,80.5 281.6,77.8 282.9,77.0 284.3,80.0 285.4,78.3 286.4,74.0 287.5,71.3 288.9,73.5 290.2,72.4 291.5,72.7 292.6,76.2 293.4,80.0 294.5,81.0 295.6,77.3 296.9,76.0 298.3,77.3 299.4,78.5 300.4,80.0 301.8,78.9 302.9,78.5 304.0,81.0 305.3,82.1 306.6,80.5 308.0,81.0 309.0,82.1 309.8,84.2 310.0,84.0 311.1,87.3 312.4,87.8 313.8,88.7 314.8,85.1 315.9,84.6 317.3,87.0 318.6,85.1 319.9,83.5 321.3,80.8 322.7,78.3 324.0,77.6 325.1,73.6 326.3,72.5 327.4,75.4 328.5,77.6 329.6,75.4 330.6,73.3 332.0,72.8 333.4,71.1 334.5,72.5 335.6,77.0 336.7,79.4 337.7,80.5 338.8,78.1 339.9,76.5 341.2,77.9 342.5,79.4 343.6,81.9 344.6,82.2 345.7,79.7 346.8,79.2 347.9,81.9 348.9,85.7 349.8,87.8 351.1,88.9 352.5,90.5 353.6,92.7 354.9,94.3 356.0,92.1 357.1,89.4 358.4,88.3 359.7,89.1 360.0,88.8 361.3,90.2 362.7,91.0 364.1,90.5 365.2,92.6 365.9,96.4 366.7,97.8 368.1,96.9 369.5,96.0 370.5,98.0 371.6,102.8 372.4,109.8 373.1,114.7 374.2,116.8 375.3,114.7 376.7,113.0 378.1,113.6 379.4,114.7 380.6,113.9 382.0,113.0 383.1,109.3 384.5,106.6 385.8,107.1 387.4,108.5 388.8,106.6 390.1,105.5 391.2,104.7 392.3,102.3 393.6,100.3 394.9,100.1 396.3,100.3 397.6,101.2 398.9,100.1 400.3,99.3 401.4,100.7 402.5,103.1 403.6,103.9 404.6,101.7 406.0,101.2 407.3,102.8 408.6,103.6 409.7,102.8 410.8,99.6 412.1,97.4 413.2,98.5 414.6,100.1 415.7,100.7 417.0,99.6 418.3,99.9 419.7,101.7 420.8,104.4 421.8,106.4 423.4,107.1 424.5,106.0 425.8,103.3 426.7,102.3 428.0,103.1 429.4,103.3 431.0,103.6 432.6,103.3 433.7,100.1 435.1,98.2 436.1,100.1 437.2,102.3 438.7,102.8 439.8,103.3 440.0,103.6 441.6,103.6 443.0,103.9 444.3,105.0 445.9,105.5 447.3,106.0 448.6,104.7 449.9,103.3 451.0,103.1 452.0,100.7 453.1,100.1 454.2,102.8 455.3,108.2 456.3,112.2 457.4,114.1 458.8,113.2 460.2,112.0 461.5,110.3 462.6,108.2 463.7,104.4 464.7,102.3 465.8,103.9 467.1,106.0 468.5,104.4 469.6,103.9 470.6,106.0 471.7,108.2 472.8,109.0 474.2,107.7 475.5,107.1 476.8,108.5 477.9,107.1 479.2,104.4 480.3,104.2 481.4,106.0 482.8,108.5 484.1,107.9 485.4,106.4 486.4,107.7 487.5,109.8 488.6,110.7 490.0,109.6 491.4,109.6 492.7,109.6 493.8,107.9 494.8,107.7 495.9,109.8 497.0,112.5 498.1,112.2 499.4,111.4 500.2,114.1 501.3,117.3 502.6,119.0 503.7,117.3 505.1,115.2 506.1,115.7 507.5,116.8 508.8,115.2 510.4,114.1 511.8,114.7 512.9,116.3 514.2,117.1 515.5,116.5 516.9,116.3 518.0,114.1 519.0,112.5 519.8,111.7 520.0,111.0 521.3,112.4 522.7,113.7 524.1,113.4 525.2,116.9 526.5,119.0 527.7,120.7 528.8,123.3 529.9,126.6 531.3,128.5 532.7,126.6 534.0,123.3 535.3,120.1 536.3,116.3 537.4,110.4 538.3,105.0 539.4,100.5 540.4,99.5 541.7,99.7 542.8,101.3 543.9,103.1 545.3,103.8 546.3,103.1 547.4,99.7 548.5,95.9 549.6,95.4 550.6,97.5 551.7,99.9 553.1,100.5 554.4,99.9 555.7,99.5 557.1,100.8 558.2,105.0 559.2,108.1 560.6,107.7 561.9,108.1 563.2,109.1 564.6,109.3 566.0,110.4 567.3,112.6 568.4,115.8 569.7,118.8 570.8,119.0 571.8,117.7 573.2,119.6 574.6,120.1 575.9,119.0 577.5,116.3 578.9,114.5 580.4,113.4 581.8,113.9 582.9,116.3 584.0,118.5 585.4,119.2 586.7,120.1 588.0,122.3 589.0,124.4 590.0,124.2 591.1,124.2 592.1,125.5 593.2,130.3 594.3,134.7 595.4,135.4 596.5,133.0 597.5,130.7 598.6,129.6 599.9,130.3 601.3,130.9 602.4,132.5 603.4,134.7 604.5,133.6 605.6,130.9 607.0,128.2 608.3,125.5 609.4,123.3 610.6,123.9 612.0,124.7 613.1,123.3 614.2,120.7 615.6,117.4 616.9,116.4 618.0,116.9 619.0,119.6 620.3,122.3 621.4,124.4 622.5,128.2 623.5,130.3 625.0,130.3 626.3,130.3 627.4,131.4 628.7,130.3 630.0,129.8 631.4,128.2 632.7,127.1 633.9,128.5 635.0,130.9 636.2,134.1 637.3,132.8 638.6,130.9 639.7,130.3 641.1,131.4 642.5,131.7 643.8,131.4 644.8,132.5 646.1,133.6 647.5,135.0 648.9,134.3 650.2,134.1 651.5,132.5 652.9,131.4 654.3,130.3 655.6,128.2 656.9,128.5 658.3,129.3 659.7,130.0 660.0,130.5 661.3,129.7 662.4,128.7 663.4,130.3 664.5,133.0 665.9,133.7 667.3,133.3 668.4,135.7 669.5,137.6 670.8,137.8 671.8,135.7 672.9,133.5 674.2,132.2 675.6,132.2 677.0,133.0 678.3,134.0 679.6,134.4 681.0,134.4 682.0,131.9 683.1,128.7 684.2,127.3 685.3,128.1 686.3,130.8 687.7,133.0 689.0,135.1 690.3,137.3 691.4,135.1 692.3,132.4 693.3,132.2 694.4,133.5 695.5,131.9 696.6,129.0 697.9,127.6 699.2,127.6 700.6,129.2 701.7,131.6 702.8,132.7 703.9,130.3 705.0,129.2 705.8,130.1 706.5,133.5 707.5,135.9 708.9,137.8 709.7,141.6 710.5,145.9 711.3,149.0 712.6,151.7 714.0,153.1 715.3,151.7 717.0,150.4 718.3,152.1 719.7,156.1 720.7,160.2 721.4,165.6 721.7,171.3 722.4,174.6 722.7,177.3 723.6,178.4 724.5,179.8 725.3,182.0 726.1,183.7 726.7,184.5 727.2,183.9 728.0,183.1" fill="none" stroke="#ceae46" stroke-width="1" stroke-opacity="0.92" stroke-linejoin="round"/>
<rect x="79.5" y="344.5" width="376" height="25" fill="#fff" stroke="#000" stroke-width="1" shape-rendering="crispEdges"/>
<text x="408.1" y="355" text-anchor="end">TECO Energy Inc - ILLIQ-MFMEM Illiquidity</text>
<text x="407.8" y="367" text-anchor="end">TECO Energy Inc - ILLIQ-MFMEM Illiquidity Trend</text>
<line x1="415.5" y1="350.5" x2="448.5" y2="350.5" stroke="#d0202a" stroke-width="1" stroke-opacity="0.75"/>
<line x1="415.5" y1="363.5" x2="448.5" y2="363.5" stroke="#ceae46" stroke-width="1" stroke-opacity="0.85"/>
</svg></body></html>
